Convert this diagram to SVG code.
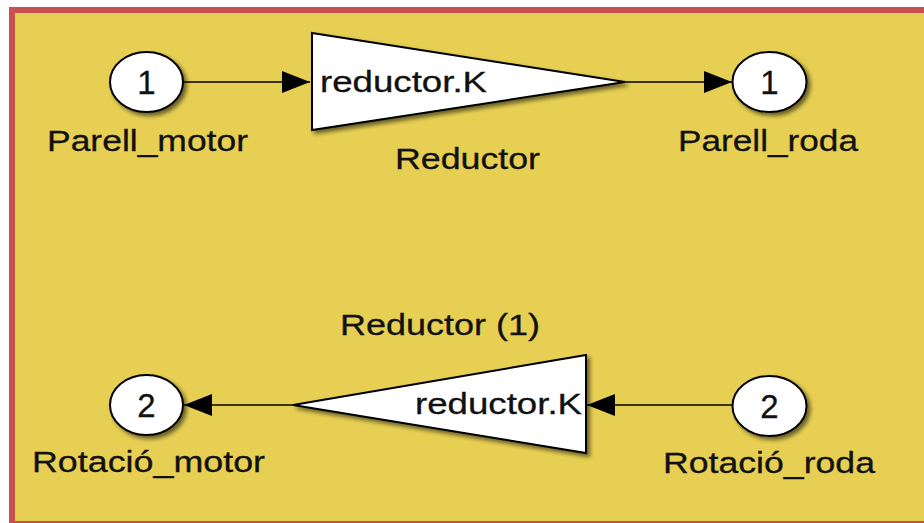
<svg xmlns="http://www.w3.org/2000/svg" width="924" height="523" viewBox="0 0 924 523">
  <defs>
    <filter id="shadow" x="-20%" y="-20%" width="150%" height="150%">
      <feGaussianBlur in="SourceAlpha" stdDeviation="2"/>
      <feOffset dx="3" dy="3" result="b"/>
      <feComponentTransfer><feFuncA type="linear" slope="0.55"/></feComponentTransfer>
      <feMerge><feMergeNode/><feMergeNode in="SourceGraphic"/></feMerge>
    </filter>
    <marker id="arrow" viewBox="0 0 28 22" refX="28" refY="11" markerWidth="28" markerHeight="22" markerUnits="userSpaceOnUse" orient="auto">
      <path d="M0,0 L28,11 L0,22 Z" fill="#000"/>
    </marker>
  </defs>
  <style>
    .port { fill: #fff; stroke: #000; stroke-width: 2; filter: url(#shadow); }
    .gain { fill: #fff; stroke: #000; stroke-width: 2; filter: url(#shadow); }
    .wire { fill: none; stroke: #000; stroke-width: 1.3; marker-end: url(#arrow); }
    text { font-family: "Liberation Sans", Arial, sans-serif; fill: #111; stroke: #111; stroke-width: 0.3; }
    .lbl { font-size: 29px; }
    .num { font-size: 33px; text-anchor: middle; }
  </style>

  <!-- subsystem canvas -->
  <rect x="0" y="0" width="924" height="523" fill="#fff"/>
  <rect x="12" y="10" width="930" height="514" fill="#e6cf52" stroke="#c8504e" stroke-width="6"/>

  <g id="connectors">
    <path class="wire" d="M183,82 H310"/>
    <path class="wire" d="M625,82 H732"/>
    <path class="wire" d="M732,405 H587"/>
    <path class="wire" d="M293,405 H184"/>
  </g>

  <g id="Parell_motor">
    <ellipse class="port" cx="146.5" cy="82" rx="36.5" ry="30"/>
    <text class="num" x="146.5" y="94">1</text>
    <text class="lbl" x="47" y="151" textLength="201" lengthAdjust="spacingAndGlyphs">Parell_motor</text>
  </g>

  <g id="Reductor">
    <polygon class="gain" points="312,33 625,82 312,130"/>
    <text class="lbl" x="320" y="92" textLength="167" lengthAdjust="spacingAndGlyphs">reductor.K</text>
    <text class="lbl" x="395" y="169" textLength="145" lengthAdjust="spacingAndGlyphs">Reductor</text>
  </g>

  <g id="Parell_roda">
    <ellipse class="port" cx="769.5" cy="82" rx="37" ry="30"/>
    <text class="num" x="769.5" y="94">1</text>
    <text class="lbl" x="678" y="151" textLength="180" lengthAdjust="spacingAndGlyphs">Parell_roda</text>
  </g>

  <g id="Reductor_1">
    <polygon class="gain" points="586,355 293,405 586,453"/>
    <text class="lbl" x="415" y="414" textLength="167" lengthAdjust="spacingAndGlyphs">reductor.K</text>
    <text class="lbl" x="340" y="335" textLength="200" lengthAdjust="spacingAndGlyphs">Reductor (1)</text>
  </g>

  <g id="Rotacio_motor">
    <ellipse class="port" cx="146.5" cy="405" rx="36.5" ry="30"/>
    <text class="num" x="146.5" y="417">2</text>
    <text class="lbl" x="32" y="472" textLength="233" lengthAdjust="spacingAndGlyphs">Rotació_motor</text>
  </g>

  <g id="Rotacio_roda">
    <ellipse class="port" cx="769.5" cy="406" rx="37" ry="30"/>
    <text class="num" x="769.5" y="418">2</text>
    <text class="lbl" x="663" y="473" textLength="212" lengthAdjust="spacingAndGlyphs">Rotació_roda</text>
  </g>
</svg>
